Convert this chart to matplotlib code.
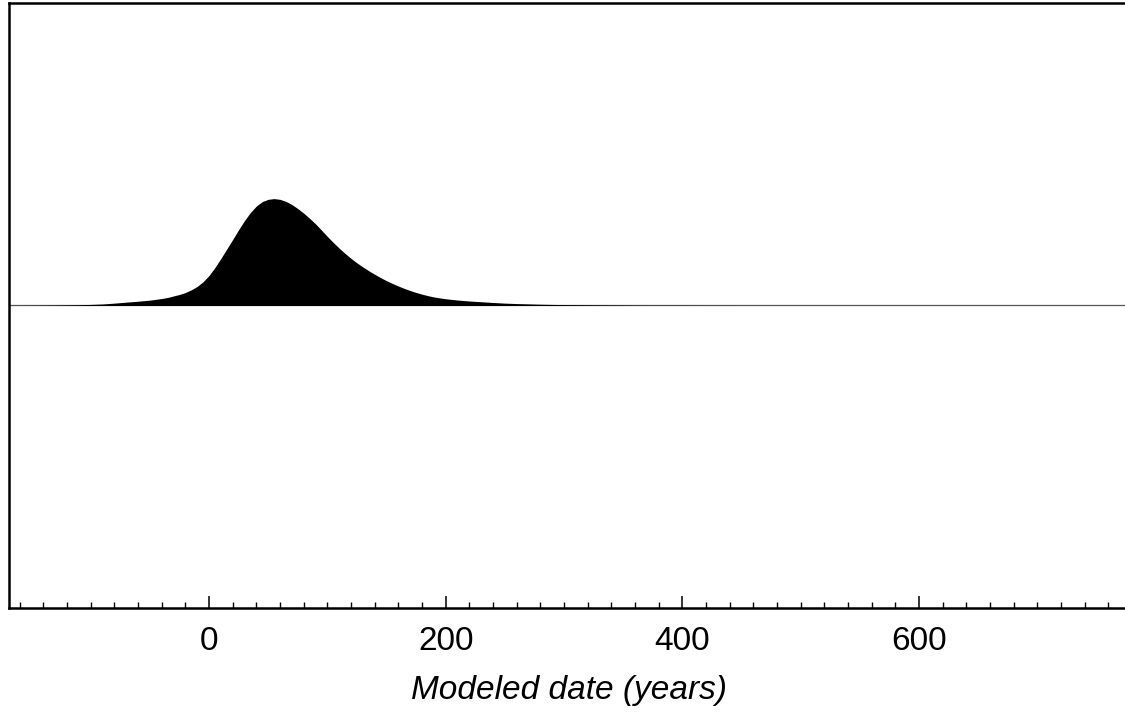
import matplotlib
matplotlib.use('Agg')
import matplotlib.pyplot as plt
import matplotlib.ticker as mticker
import numpy as np

plt.rcParams['font.family'] = ['Liberation Sans', 'DejaVu Sans']

# modeled date (years) and relative probability (peak = 1)
years = [-170, -150, -130, -110, -100, -90, -80, -70, -60, -50,
         -40, -35, -30, -25, -20, -15, -10, -5, 0, 5, 10, 15, 20, 25, 30, 35,
         40, 45, 50, 55, 60, 65, 70, 75, 80, 85, 90, 95, 100, 105, 110, 115,
         120, 125, 130, 135, 140, 145, 150, 155, 160, 165, 170, 175, 180, 185,
         190, 195, 200, 210, 220, 230, 240, 250, 260, 280, 300, 320, 340,
         360, 380, 400, 450, 500, 780]
prob = [0.0, 0.001, 0.003, 0.007, 0.010, 0.014, 0.022, 0.031, 0.040, 0.050,
        0.065, 0.075, 0.089, 0.103, 0.121, 0.146, 0.178, 0.222, 0.280, 0.355,
        0.439, 0.528, 0.617, 0.708, 0.794, 0.870, 0.930, 0.972, 0.993, 1.000,
        0.993, 0.974, 0.945, 0.907, 0.864, 0.816, 0.764, 0.706, 0.646, 0.590,
        0.537, 0.487, 0.441, 0.399, 0.361, 0.325, 0.292, 0.261, 0.232, 0.206,
        0.182, 0.160, 0.140, 0.122, 0.106, 0.092, 0.080, 0.071, 0.063, 0.051,
        0.042, 0.035, 0.028, 0.022, 0.018, 0.012, 0.008, 0.006, 0.004, 0.002,
        0.001, 0.001, 0.0, 0.0, 0.0]

xlim = (-169, 777)
ylim = (-2.83, 2.83)

fig = plt.figure(figsize=(11.25, 7.13), dpi=100)
ax = fig.add_axes([0.008, 0.1473, 0.995, 0.8485])

ax.axhline(0, color='#555555', lw=0.9, zorder=1)
ax.fill_between(years, 0, prob, color='black', lw=0, zorder=2)

ax.set_xlim(*xlim)
ax.set_ylim(*ylim)
ax.set_yticks([])
ax.xaxis.set_major_locator(mticker.MultipleLocator(200))
ax.xaxis.set_minor_locator(mticker.MultipleLocator(20))
ax.tick_params(axis='x', which='major', direction='in', length=8.5, width=1.1,
               labelsize=24, pad=13)
ax.tick_params(axis='x', which='minor', direction='in', length=4, width=1.0)

for side in ['left', 'top', 'bottom']:
    ax.spines[side].set_linewidth(1.8)
ax.spines['right'].set_visible(False)

ax.set_xlabel('Modeled date (years)', fontsize=24, style='italic', labelpad=13)

# title sits above the figure edge, only its descenders reach inside
fig.text(0.098, 1 + 6.5 / 713, 'Probability (au),', fontsize=24, va='baseline',
         ha='left')

plt.savefig('out.png', dpi=100)
plt.close()
